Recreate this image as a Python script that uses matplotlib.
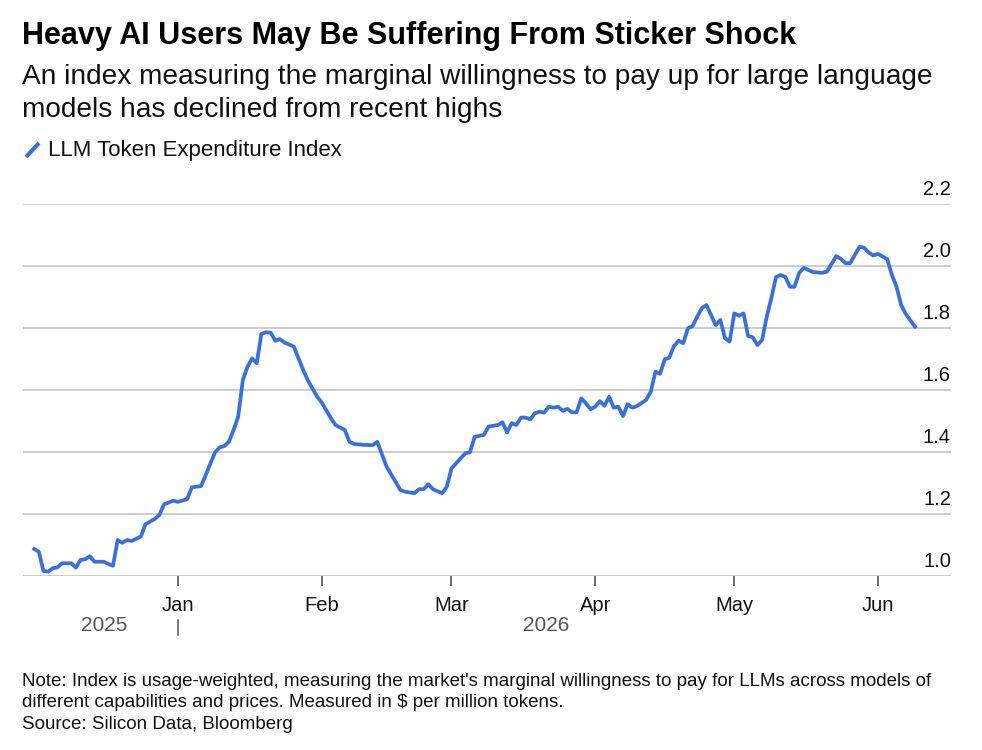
import matplotlib
matplotlib.use("Agg")
import matplotlib.pyplot as plt
import matplotlib.transforms as mtransforms
from matplotlib.lines import Line2D
import pandas as pd

# LLM Token Expenditure Index
dates = [
    "2025-12-01", "2025-12-02", "2025-12-03", "2025-12-04", "2025-12-05", "2025-12-06",
    "2025-12-07", "2025-12-09", "2025-12-10", "2025-12-11", "2025-12-12", "2025-12-13",
    "2025-12-14", "2025-12-16", "2025-12-17", "2025-12-18", "2025-12-19", "2025-12-20",
    "2025-12-21", "2025-12-22", "2025-12-24", "2025-12-25", "2025-12-27", "2025-12-28",
    "2025-12-29", "2025-12-31",
    "2026-01-01", "2026-01-03", "2026-01-04", "2026-01-06", "2026-01-07", "2026-01-09",
    "2026-01-10", "2026-01-11", "2026-01-12", "2026-01-13", "2026-01-14", "2026-01-15",
    "2026-01-16", "2026-01-17", "2026-01-18", "2026-01-19", "2026-01-20", "2026-01-21",
    "2026-01-22", "2026-01-23", "2026-01-24", "2026-01-26", "2026-01-28", "2026-01-29",
    "2026-01-31",
    "2026-02-01", "2026-02-03", "2026-02-04", "2026-02-06", "2026-02-07", "2026-02-08",
    "2026-02-10", "2026-02-12", "2026-02-13", "2026-02-15", "2026-02-18", "2026-02-19",
    "2026-02-21", "2026-02-22", "2026-02-23", "2026-02-24", "2026-02-25", "2026-02-27",
    "2026-02-28",
    "2026-03-01", "2026-03-04", "2026-03-05", "2026-03-06", "2026-03-08", "2026-03-09",
    "2026-03-11", "2026-03-12", "2026-03-13", "2026-03-14", "2026-03-15", "2026-03-16",
    "2026-03-17", "2026-03-18", "2026-03-19", "2026-03-20", "2026-03-21", "2026-03-22",
    "2026-03-23", "2026-03-24", "2026-03-25", "2026-03-26", "2026-03-27", "2026-03-28",
    "2026-03-29", "2026-03-30", "2026-03-31",
    "2026-04-01", "2026-04-02", "2026-04-03", "2026-04-04", "2026-04-05", "2026-04-06",
    "2026-04-07", "2026-04-08", "2026-04-09", "2026-04-10", "2026-04-12", "2026-04-13",
    "2026-04-14", "2026-04-15", "2026-04-16", "2026-04-17", "2026-04-18", "2026-04-19",
    "2026-04-20", "2026-04-21", "2026-04-22", "2026-04-23", "2026-04-24", "2026-04-25",
    "2026-04-27", "2026-04-28", "2026-04-29", "2026-04-30",
    "2026-05-01", "2026-05-02", "2026-05-03", "2026-05-04", "2026-05-05", "2026-05-06",
    "2026-05-07", "2026-05-08", "2026-05-09", "2026-05-10", "2026-05-11", "2026-05-12",
    "2026-05-13", "2026-05-14", "2026-05-15", "2026-05-16", "2026-05-17", "2026-05-18",
    "2026-05-20", "2026-05-21", "2026-05-23", "2026-05-24", "2026-05-25", "2026-05-26",
    "2026-05-28", "2026-05-29", "2026-05-30", "2026-05-31",
    "2026-06-01", "2026-06-03", "2026-06-04", "2026-06-05", "2026-06-06", "2026-06-07",
    "2026-06-09",
]
index_values = [
    1.088, 1.079, 1.017, 1.015, 1.026, 1.029,
    1.042, 1.042, 1.028, 1.053, 1.055, 1.065,
    1.047, 1.047, 1.040, 1.034, 1.117, 1.108,
    1.117, 1.114, 1.128, 1.168, 1.185, 1.198,
    1.232, 1.244,
    1.240, 1.249, 1.287, 1.291, 1.327, 1.400,
    1.416, 1.420, 1.434, 1.472, 1.515, 1.633,
    1.676, 1.703, 1.687, 1.782, 1.787, 1.786,
    1.760, 1.765, 1.754, 1.741, 1.666, 1.633,
    1.580,
    1.561, 1.510, 1.488, 1.472, 1.434, 1.427,
    1.424, 1.423, 1.434, 1.354, 1.278, 1.273,
    1.268, 1.281, 1.281, 1.297, 1.281, 1.268,
    1.289,
    1.348, 1.397, 1.400, 1.450, 1.456, 1.483,
    1.488, 1.497, 1.464, 1.494, 1.488, 1.512,
    1.512, 1.506, 1.526, 1.531, 1.528, 1.547,
    1.544, 1.547, 1.534, 1.540, 1.529, 1.529,
    1.574, 1.558, 1.539,
    1.547, 1.565, 1.550, 1.579, 1.544, 1.547,
    1.517, 1.555, 1.544, 1.549, 1.569, 1.596,
    1.660, 1.653, 1.700, 1.705, 1.743, 1.760,
    1.752, 1.800, 1.807, 1.837, 1.865, 1.875,
    1.810, 1.827, 1.768, 1.757,
    1.848, 1.841, 1.848, 1.775, 1.771, 1.746,
    1.762, 1.837, 1.897, 1.965, 1.972, 1.966,
    1.934, 1.934, 1.979, 1.995, 1.988, 1.981,
    1.979, 1.983, 2.033, 2.024, 2.010, 2.010,
    2.063, 2.060, 2.044, 2.035,
    2.040, 2.023, 1.972, 1.934, 1.875, 1.846,
    1.805,
]
month_ticks = ["2026-01-01", "2026-02-01", "2026-03-01", "2026-04-01", "2026-05-01", "2026-06-01"]
month_labels = ["Jan", "Feb", "Mar", "Apr", "May", "Jun"]
y_ticks = [1.0, 1.2, 1.4, 1.6, 1.8, 2.0, 2.2]

dates = pd.to_datetime(dates)
month_ticks = pd.to_datetime(month_ticks)

plt.rcParams["font.family"] = ["Liberation Sans", "DejaVu Sans"]

W, H = 982, 750
fig = plt.figure(figsize=(W / 100, H / 100), dpi=100)
fig.patch.set_facecolor("white")

# axes placed in pixel terms
left, right, top, bottom = 23, 951, 204.3, 576.3
ax = fig.add_axes([left / W, 1 - bottom / H, (right - left) / W, (bottom - top) / H])

blue = "#3a70db"
ax.plot(dates, index_values, color=blue, lw=2.7, solid_joinstyle="round", clip_on=False)

ax.set_xlim(pd.Timestamp("2025-11-28 14:00"), pd.Timestamp("2026-06-16 18:00"))
ax.set_ylim(1.0, 2.2)

for s in ax.spines.values():
    s.set_visible(False)
ax.set_yticks(y_ticks)
ax.tick_params(axis="y", length=0, labelleft=False)
ax.yaxis.grid(True, color="#c9c9c9", lw=1.3)
ax.set_axisbelow(True)

ax.set_xticks(month_ticks)
ax.set_xticklabels(month_labels)
ax.tick_params(axis="x", length=7, width=1.1, color="#444444", pad=7,
               labelsize=14.5, labelcolor="#111111")

# y labels sit above the gridlines at the right edge
ylab_tr = mtransforms.offset_copy(
    mtransforms.blended_transform_factory(ax.transAxes, ax.transData),
    fig=fig, x=0, y=9, units="dots")
for v in y_ticks:
    ax.text(1.0, v, f"{v:.1f}", transform=ylab_tr, ha="right", va="baseline",
            fontsize=14.5, color="#111111")

# year row
xy_tr = mtransforms.blended_transform_factory(ax.transData, ax.transAxes)
jan = month_ticks[0]
ax.text(pd.Timestamp("2025-12-16"), -0.132, "2025", transform=xy_tr, ha="center",
        va="center", fontsize=15, color="#555555")
ax.text(jan + (dates[-1] - jan) / 2, -0.132, "2026", transform=xy_tr, ha="center",
        va="center", fontsize=15, color="#555555")
ax.plot([jan, jan], [-0.117, -0.157], transform=xy_tr, color="#555555", lw=1.1, clip_on=False)

# header
def px(x, y):
    return x / W, 1 - y / H

fig.text(*px(22, 44), "Heavy AI Users May Be Suffering From Sticker Shock",
         fontsize=22, fontweight="bold", ha="left", va="baseline")
fig.text(*px(22, 84), "An index measuring the marginal willingness to pay up for large language",
         fontsize=20.2, ha="left", va="baseline", color="#111111")
fig.text(*px(22, 117), "models has declined from recent highs",
         fontsize=20.2, ha="left", va="baseline", color="#111111")

fig.add_artist(Line2D([26 / W, 39 / W], [1 - 157 / H, 1 - 143 / H], color=blue, lw=3,
                      solid_capstyle="butt", transform=fig.transFigure))
fig.text(*px(48, 156), "LLM Token Expenditure Index", fontsize=16, ha="left",
         va="baseline", color="#111111")

# footer
note_kw = dict(fontsize=13.5, ha="left", va="baseline", color="#111111")
fig.text(*px(22, 686), "Note: Index is usage-weighted, measuring the market's marginal willingness "
         "to pay for LLMs across models of", **note_kw)
fig.text(*px(22, 707), "different capabilities and prices. Measured in $ per million tokens.",
         **note_kw)
fig.text(*px(22, 729), "Source: Silicon Data, Bloomberg", **note_kw)

fig.savefig("out.png", dpi=100, facecolor="white")
